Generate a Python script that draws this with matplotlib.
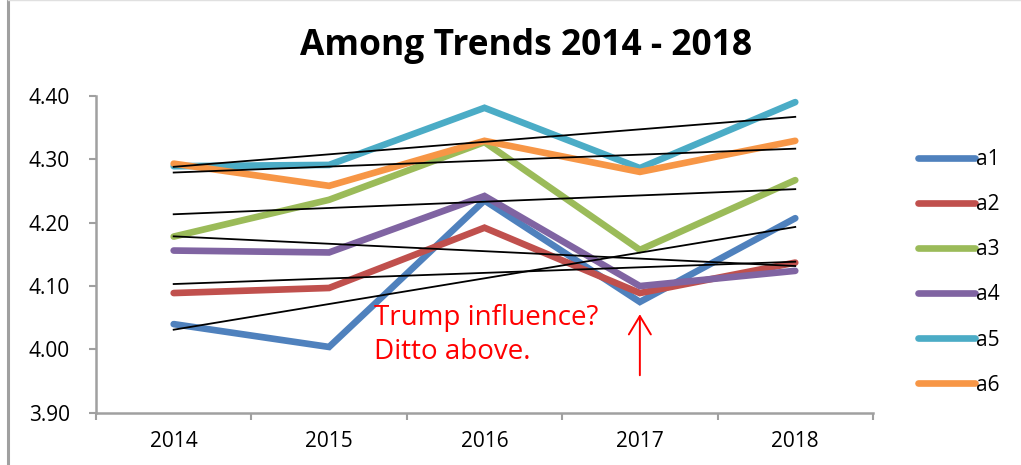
import matplotlib
matplotlib.use("Agg")
import matplotlib.pyplot as plt
from matplotlib.lines import Line2D
import numpy as np

# survey means per group, 2014-2018
years = ["2014", "2015", "2016", "2017", "2018"]
a1 = [4.040, 4.004, 4.235, 4.075, 4.207]
a2 = [4.089, 4.097, 4.192, 4.089, 4.137]
a3 = [4.178, 4.236, 4.327, 4.157, 4.267]
a4 = [4.156, 4.153, 4.242, 4.100, 4.124]
a5 = [4.289, 4.291, 4.381, 4.286, 4.390]
a6 = [4.293, 4.258, 4.329, 4.280, 4.329]
names = ["a1", "a2", "a3", "a4", "a5", "a6"]
colors = ["#4F81BD", "#C0504D", "#9BBB59", "#8064A2", "#4BACC6", "#F79646"]

plt.rcParams["font.family"] = ["Open Sans", "DejaVu Sans"]

fig = plt.figure(figsize=(10.21, 4.65), dpi=100)
ax = fig.add_axes([0.094, 0.112, 0.761, 0.682])

x = np.arange(len(years))
series = [a1, a2, a3, a4, a5, a6]
for vals, col, name in zip(series, colors, names):
    ax.plot(x, vals, color=col, lw=4.8, solid_capstyle="round",
            solid_joinstyle="miter", label=name, zorder=2)

# linear trendline for each group
for vals in series:
    k, b = np.polyfit(x, vals, 1)
    ax.plot(x, k * x + b, color="black", lw=1.3, zorder=3)

ax.set_xlim(-0.5, 4.5)
ax.set_ylim(3.9, 4.4)
yt = np.arange(3.9, 4.41, 0.1)
ax.set_yticks(yt)
ax.set_yticklabels(["%.2f" % v for v in yt], fontsize=15)
ax.set_xticks(x)
ax.set_xticklabels(years, fontsize=15)
ax.set_xticks(np.arange(-0.5, 4.6, 1), minor=True)
ax.tick_params(axis="x", which="major", length=0, pad=13)
ax.tick_params(axis="x", which="minor", length=5, color="#a0a0a0", width=1.5)
ax.tick_params(axis="y", length=5, color="#a0a0a0", width=1.5, pad=14)

for s in ["top", "right"]:
    ax.spines[s].set_visible(False)
for s in ["left", "bottom"]:
    ax.spines[s].set_color("#a0a0a0")
    ax.spines[s].set_linewidth(1.8)

fig.text(0.515, 0.9, "Among Trends 2014 - 2018", ha="center", va="center",
         fontsize=25.5, fontweight="bold")

# annotation
ax.text(1.29, 4.072, "Trump influence?\nDitto above.", color="red", fontsize=20,
        va="top", ha="left", linespacing=1.28)
ax.annotate("", xy=(3, 4.06), xytext=(3, 3.955),
            arrowprops=dict(arrowstyle="->,head_length=0.55,head_width=0.33",
                            color="red", lw=1.4, mutation_scale=24))

handles = [Line2D([0], [0], color=c, lw=4.8, solid_capstyle="round") for c in colors]
fig.legend(handles, names, loc="upper left", bbox_to_anchor=(0.881, 0.72),
           frameon=False, fontsize=15, handlelength=2.7, handletextpad=0.05,
           labelspacing=1.16)

# chart area frame
fig.add_artist(Line2D([0.008, 0.008], [0, 1], color="#a0a0a0", lw=2.2,
                      transform=fig.transFigure))
fig.add_artist(Line2D([0.008, 1], [0.999, 0.999], color="#e0e0e0", lw=1,
                      transform=fig.transFigure))

fig.savefig("out.png", dpi=100)
